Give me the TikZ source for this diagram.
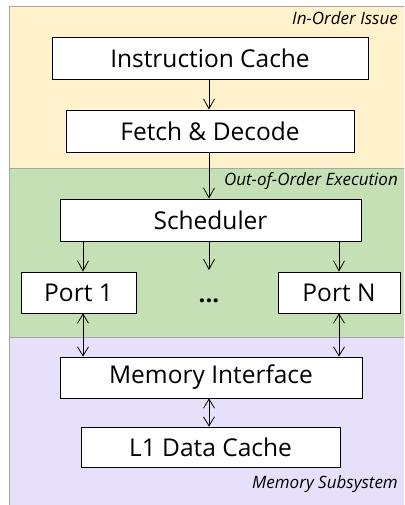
\documentclass[tikz,border=0pt]{standalone}
\usepackage{fontspec}
\setmainfont{Open Sans}
\usetikzlibrary{arrows.meta}
\definecolor{bandA}{HTML}{FFF2CC}
\definecolor{bandB}{HTML}{C5E0B4}
\definecolor{bandC}{HTML}{E6E0FA}
\definecolor{bandline}{HTML}{A6A6A6}
\tikzset{
  band/.style={draw=bandline, line width=1pt},
  blk/.style={draw=black, fill=white, line width=0.8pt, inner sep=0pt, font=\fontsize{24.5}{28}\selectfont},
  lbl/.style={font=\fontsize{17}{20}\selectfont\itshape, anchor=base east, inner sep=0pt},
  arr/.style={-{Straight Barb[length=10pt,width=11pt]}, line width=0.8pt},
  darr/.style={{Straight Barb[length=9pt,width=11pt]}-{Straight Barb[length=9pt,width=11pt]}, line width=0.8pt},
}
\begin{document}
\begin{tikzpicture}[x=1pt,y=-1pt]
\useasboundingbox (0,0) rectangle (404,505);
\begin{scope}
\clip (0,0) rectangle (404,505);
\fill[white] (0,0) rectangle (404,505);
\draw[band, fill=bandA] (9,7) rectangle (410,168);
\draw[band, fill=bandB] (9,168) rectangle (410,337);
\draw[band, fill=bandC] (9,337) rectangle (410,512);
\end{scope}
\node[lbl] (l1) at (398,25) {In-Order Issue};
\node[lbl] (l2) at (398,185) {Out-of-Order Execution};
\node[lbl] (l3) at (398,488) {Memory Subsystem};

\node[blk, minimum width=316pt, minimum height=42pt] (ic) at (210,58) {Instruction Cache};
\node[blk, minimum width=288pt, minimum height=42pt] (fd) at (210,131) {Fetch \& Decode};
\node[blk, minimum width=301pt, minimum height=42pt] (sc) at (210.5,220) {Scheduler};
\node[blk, minimum width=115pt, minimum height=41pt] (p1) at (78.5,292.5) {Port 1};
\node[blk, minimum width=122pt, minimum height=41pt] (pn) at (339,292.5) {Port N};
\node[inner sep=0pt, font=\fontsize{24}{28}\selectfont\bfseries] (dots) at (209,301) {...};
\node[blk, minimum width=302pt, minimum height=41pt] (mi) at (211,377.5) {Memory Interface};
\node[blk, minimum width=259pt, minimum height=40pt] (l1d) at (210.5,447) {L1 Data Cache};

\coordinate (mid) at (209,270);
\draw[arr] (ic.south -| 209,0) -- (fd.north -| 209,0);
\draw[arr] (fd.south -| 209,0) -- (sc.north -| 209,0);
\draw[arr] (sc.south -| 83,0) -- (p1.north -| 83,0);
\draw[arr] (sc.south -| 209,0) -- (mid);
\draw[arr] (sc.south -| 339,0) -- (pn.north -| 339,0);
\draw[darr] (p1.south -| 83,0) -- (mi.north -| 83,0);
\draw[darr] (pn.south -| 339,0) -- (mi.north -| 339,0);
\draw[darr] (mi.south -| 209,0) -- (l1d.north -| 209,0);
\end{tikzpicture}
\end{document}
